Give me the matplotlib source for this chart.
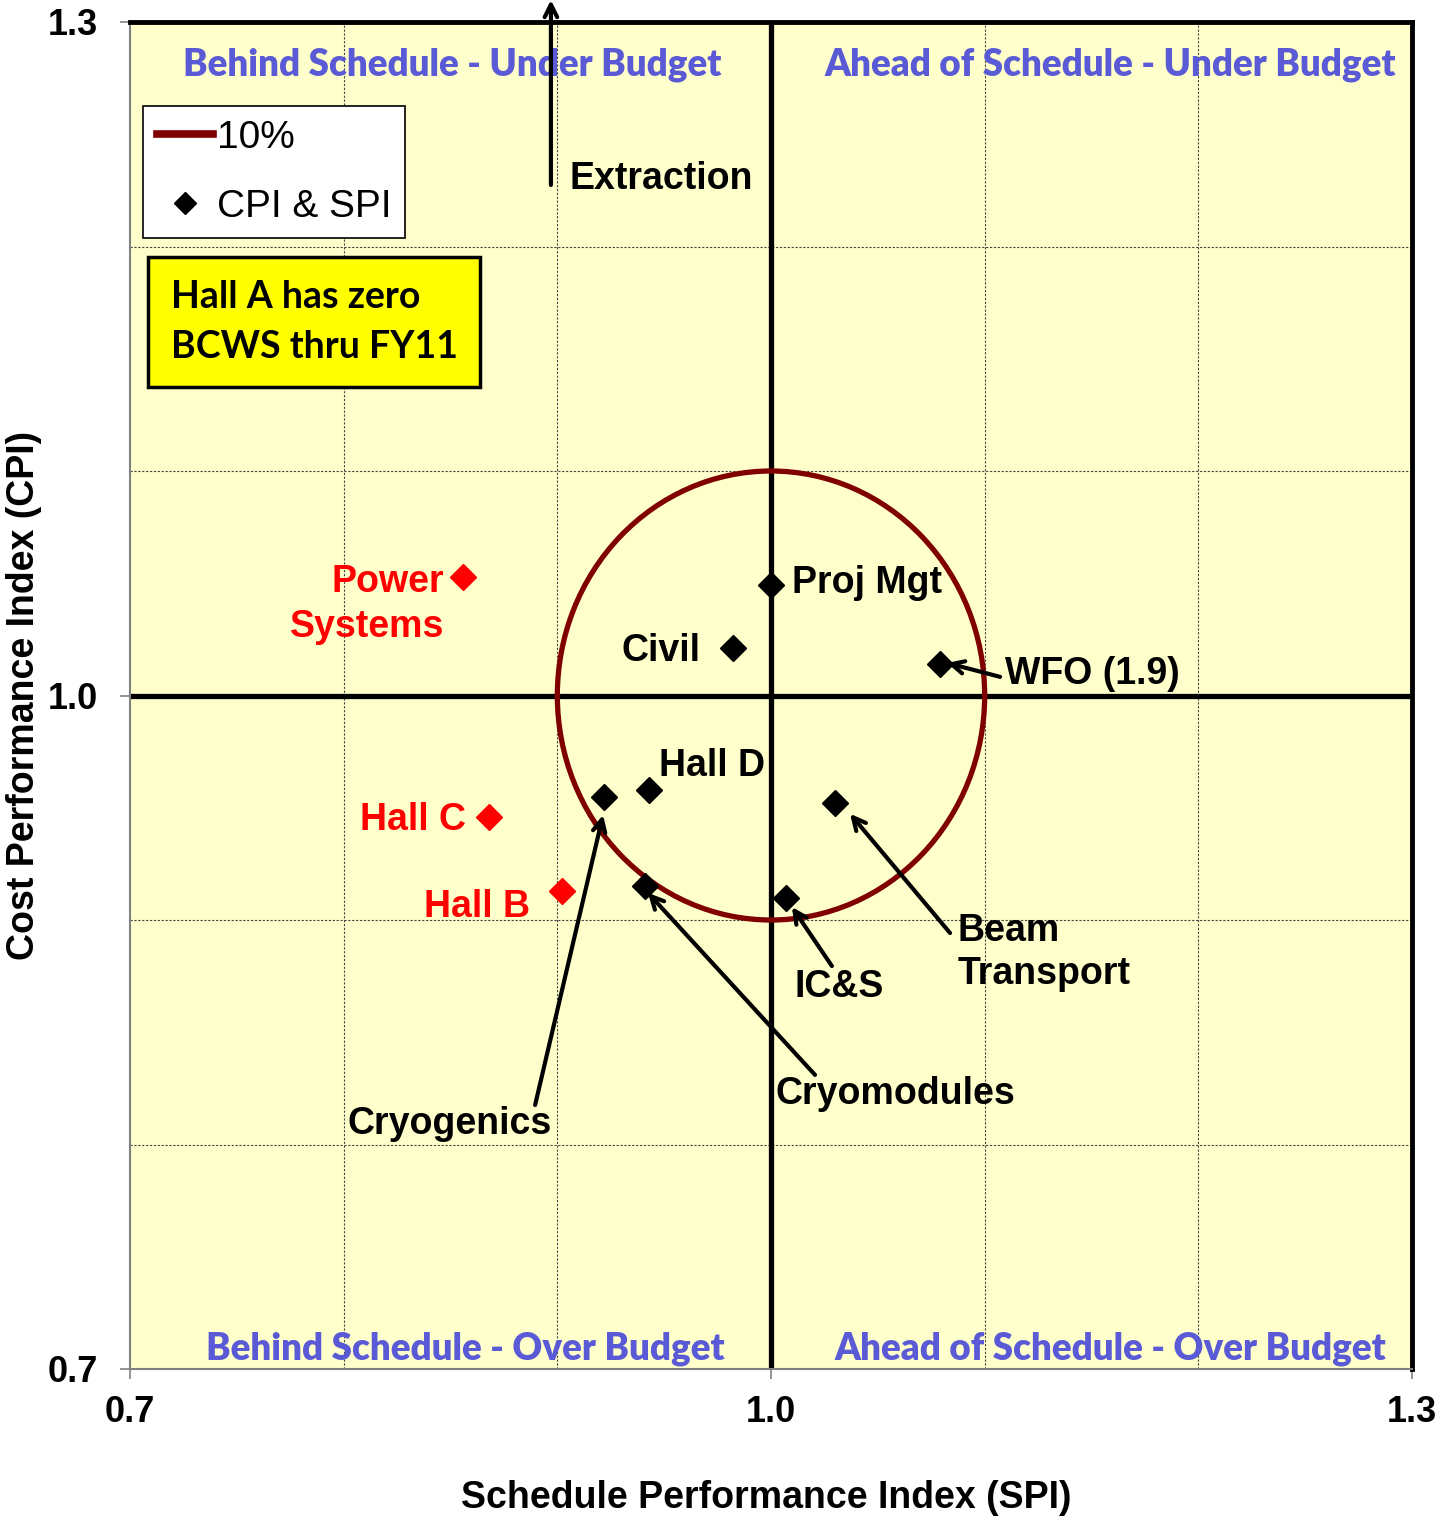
import matplotlib
matplotlib.use("Agg")
import matplotlib.pyplot as plt
from matplotlib.lines import Line2D
from matplotlib.patches import Circle

# ---- data ----
names_black = ["Proj Mgt", "Civil", "WFO (1.9)", "Hall D", "Cryogenics",
               "Beam Transport", "Cryomodules", "IC&S"]
spi_black = [1.000, 0.982, 1.079, 0.943, 0.922, 1.030, 0.941, 1.007]
cpi_black = [1.049, 1.021, 1.014, 0.958, 0.955, 0.952, 0.915, 0.910]

names_red = ["Power Systems", "Hall C", "Hall B"]
spi_red = [0.856, 0.868, 0.902]
cpi_red = [1.053, 0.946, 0.913]

threshold = 0.10  # 10% circle radius
xticks = [0.7, 1.0, 1.3]
yticks = [0.7, 1.0, 1.3]

arial = ["Liberation Sans", "DejaVu Sans"]
heavy = ["Lato", "DejaVu Sans"]

fig = plt.figure(figsize=(14.56, 15.2), dpi=100)
ax = fig.add_axes([130/1456, 1-1369/1520, (1412-130)/1456, (1369-22)/1520])
ax.set_facecolor("#FFFFCC")
ax.set_xlim(0.7, 1.3)
ax.set_ylim(0.7, 1.3)

# grid
ax.set_xticks([0.8, 0.9, 1.1, 1.2], minor=True)
ax.set_yticks([0.8, 0.9, 1.1, 1.2], minor=True)
ax.grid(which="minor", color="#444444", linestyle=(0, (2, 1.5)), linewidth=0.8)
ax.tick_params(which="minor", length=0)
ax.set_xticks(xticks)
ax.set_yticks(yticks)
ax.set_xticklabels([f"{v:.1f}" for v in xticks], fontfamily=arial, fontweight="bold", fontsize=26)
ax.set_yticklabels([f"{v:.1f}" for v in yticks], fontfamily=arial, fontweight="bold", fontsize=26)
ax.tick_params(axis="x", which="major", length=7, width=1.2, color="#808080", pad=12)
ax.tick_params(axis="y", which="major", length=7, width=1.2, color="#808080", pad=16)

for s in ["left", "bottom"]:
    ax.spines[s].set_color("#808080")
    ax.spines[s].set_linewidth(1.5)
for s in ["top", "right"]:
    ax.spines[s].set_color("black")
    ax.spines[s].set_linewidth(3.5)

# quadrant axes
ax.axvline(1.0, color="black", lw=3.8, zorder=2)
ax.axhline(1.0, color="black", lw=3.8, zorder=2)

# circle
circ = Circle((1.0, 1.0), threshold, fill=False, edgecolor="#800000", lw=3.8, zorder=3)
ax.add_patch(circ)

# points
ax.plot(spi_black, cpi_black, "D", color="black", ms=13.5, zorder=5)
ax.plot(spi_red, cpi_red, "D", color="#FF0000", ms=13.5, zorder=5)

lab = dict(fontfamily=arial, fontweight="bold", fontsize=27, zorder=6)
ax.text(1.0098, 1.0501, "Proj Mgt", ha="left", va="center", **lab)
ax.text(0.9668, 1.0198, "Civil", ha="right", va="center", **lab)
ax.text(0.9476, 0.9686, "Hall D", ha="left", va="center", **lab)
ax.text(1.1095, 1.0095, "WFO (1.9)", ha="left", va="center", **lab)
ax.text(1.0875, 0.8855, "Beam\nTransport", ha="left", va="center", linespacing=1.28, **lab)
ax.text(1.0112, 0.8702, "IC&S", ha="left", va="center", **lab)
ax.text(1.0023, 0.8225, "Cryomodules", ha="left", va="center", **lab)
ax.text(0.8016, 0.8092, "Cryogenics", ha="left", va="center", **lab)
ax.text(0.9059, 1.2301, "Extraction", ha="left", va="center", **lab)

ax.text(0.8470, 1.0405, "Power\nSystems", ha="right", va="center", color="#FF0000",
        multialignment="right", linespacing=1.3, **lab)
ax.text(0.8572, 0.9446, "Hall C", ha="right", va="center", color="#FF0000", **lab)
ax.text(0.8872, 0.9058, "Hall B", ha="right", va="center", color="#FF0000", **lab)

# arrows
arr = dict(arrowstyle="->,head_length=0.9,head_width=0.45", color="black", lw=3, shrinkA=0, shrinkB=0)
arrows = [((1.1072, 1.0083), (1.0824, 1.0145)),
          ((1.0838, 0.8942), (1.0370, 0.9473)),
          ((1.0285, 0.8795), (1.0098, 0.9058)),
          ((1.0206, 0.8310), (0.9424, 0.9121)),
          ((0.8896, 0.8176), (0.9214, 0.9468)),
          ((0.8970, 1.2274), (0.8970, 1.3098))]
for (x0, y0), (x1, y1) in arrows:
    ax.annotate("", xy=(x1, y1), xytext=(x0, y0), arrowprops=arr,
                annotation_clip=False, zorder=6)

# quadrant labels
q = dict(fontfamily=heavy, fontweight="heavy", fontsize=26.5, color="#5A5AD6",
         ha="center", va="center", zorder=4)
ax.text(0.8507, 1.281, "Behind Schedule - Under Budget", **q)
ax.text(1.1590, 1.281, "Ahead of Schedule - Under Budget", **q)
ax.text(0.8570, 0.709, "Behind Schedule - Over Budget", **q)
ax.text(1.1590, 0.709, "Ahead of Schedule - Over Budget", **q)

# legend
handles = [Line2D([], [], color="#800000", lw=5.5),
           Line2D([], [], color="black", marker="D", ms=11, ls="none")]
leg = ax.legend(handles, ["10%", "CPI & SPI"], loc="upper left",
                bbox_to_anchor=(0.0101, 0.9376), fancybox=False, framealpha=1,
                edgecolor="black", prop=dict(family=arial, size=28),
                handlelength=1.45, handletextpad=0.1, labelspacing=0.85,
                borderpad=0.35, borderaxespad=0)
leg.get_frame().set_linewidth(1.2)
leg.set_zorder(7)

# Hall A box
ax.text(0.0316, 0.8088, "Hall A has zero\nBCWS thru FY11",
        transform=ax.transAxes, ha="left", va="top", fontfamily=heavy, fontweight="bold",
        fontsize=27, linespacing=1.6, zorder=7,
        bbox=dict(boxstyle="square,pad=0.6", facecolor="#FFFF00", edgecolor="black", lw=2.5))

fig.text(766/1456, 1-1498/1520, "Schedule Performance Index (SPI)", fontfamily=arial,
         fontweight="bold", fontsize=27, ha="center", va="center")
fig.text(24/1456, 1-695/1520, "Cost Performance Index (CPI)", fontfamily=arial,
         fontweight="bold", fontsize=27, ha="center", va="center", rotation=90)

fig.savefig("out.png", dpi=100)
